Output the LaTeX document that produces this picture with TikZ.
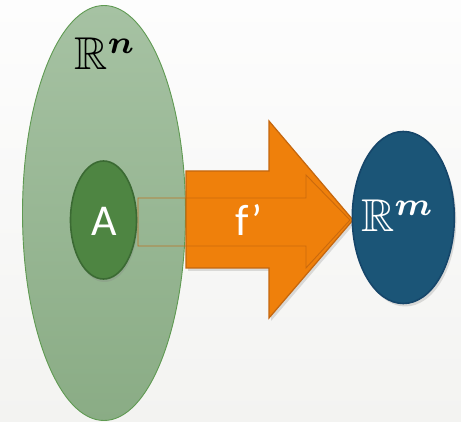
\documentclass[tikz,border=0pt]{standalone}
\usepackage{amsmath,amssymb,bm,graphicx}
\usepackage{fontspec}
\newfontfamily\calibri{Carlito}
\usetikzlibrary{shapes.geometric,shadows}
\definecolor{bgtop}{HTML}{FDFDFD}
\definecolor{bgbot}{HTML}{F3F3F1}
\definecolor{bigtop}{HTML}{A6C2A3}
\definecolor{bigbot}{HTML}{8AAC85}
\definecolor{bigline}{HTML}{5F9A52}
\definecolor{afill}{HTML}{4E8542}
\definecolor{aline}{HTML}{3B6A33}
\definecolor{bfill}{HTML}{1B5577}
\definecolor{bline}{HTML}{16466A}
\definecolor{ofill}{HTML}{EF800B}
\definecolor{oline}{HTML}{C4660E}
\tikzset{
  setell/.style={ellipse, inner sep=0pt},
  bigset/.style={setell, top color=bigtop, bottom color=bigbot, draw=bigline, line width=0.9pt},
  aset/.style={setell, fill=afill, draw=aline, line width=1.6pt,
    drop shadow={opacity=0.25, shadow xshift=1pt, shadow yshift=-3pt}},
  bset/.style={setell, fill=bfill, draw=bline, line width=1.6pt,
    drop shadow={opacity=0.25, shadow xshift=2pt, shadow yshift=-3pt}},
  bigarrow/.style={fill=ofill, draw=oline, line width=1.2pt, line join=miter,
    drop shadow={opacity=0.25, shadow xshift=2pt, shadow yshift=-3pt}},
  innerarrow/.style={draw=oline, draw opacity=0.85, line width=0.9pt},
  sanslabel/.style={text=white, font=\calibri\fontsize{44}{48}\selectfont, inner sep=0pt},
  mathlabel/.style={inner sep=0pt},
}
\begin{document}
\begin{tikzpicture}[x=1pt,y=-1pt]
\useasboundingbox (0,0) rectangle (461,422);
\shade[top color=bgtop, bottom color=bgbot] (0,0) rectangle (461,422);

% big set R^n
\node[bigset, minimum width=163pt, minimum height=415pt] (Rn) at (104,213) {};
\node[mathlabel] (Rnlabel) at (105.5,54) {\scalebox{4.6}{$\mathbb{R}^{\boldsymbol{n}}$}};

% orange block arrow
\coordinate (p1) at (186,171);
\coordinate (p2) at (269,171);
\coordinate (p3) at (269,121);
\coordinate (tip) at (353,220);
\coordinate (p5) at (269,318);
\coordinate (p6) at (269,268);
\coordinate (p7) at (186,268);
\draw[bigarrow] (p1) -- (p2) -- (p3) -- (tip) -- (p5) -- (p6) -- (p7) -- cycle;

% inner thin arrow outline
\coordinate (q1) at (138,198);
\coordinate (q2) at (306,198);
\coordinate (q3) at (306,175);
\coordinate (qtip) at (350,220);
\coordinate (q5) at (306,268);
\coordinate (q6) at (306,246);
\coordinate (q7) at (138,246);
\draw[innerarrow] (q1) -- (q2) -- (q3) -- (qtip) -- (q5) -- (q6) -- (q7) -- cycle;

% set A
\node[aset, minimum width=66pt, minimum height=118pt] (A) at (103.5,220) {};
\node[sanslabel] (Alabel) at (104,221) {A};

% f' label
\node[sanslabel] (flabel) at (249,220) {f’};

% target set R^m
\node[bset, minimum width=102pt, minimum height=172pt] (Rm) at (403.3,217.5) {};
\node[mathlabel, text=white] (Rmlabel) at (398,216) {\scalebox{4.6}{$\mathbb{R}^{\boldsymbol{m}}$}};
\end{tikzpicture}
\end{document}
